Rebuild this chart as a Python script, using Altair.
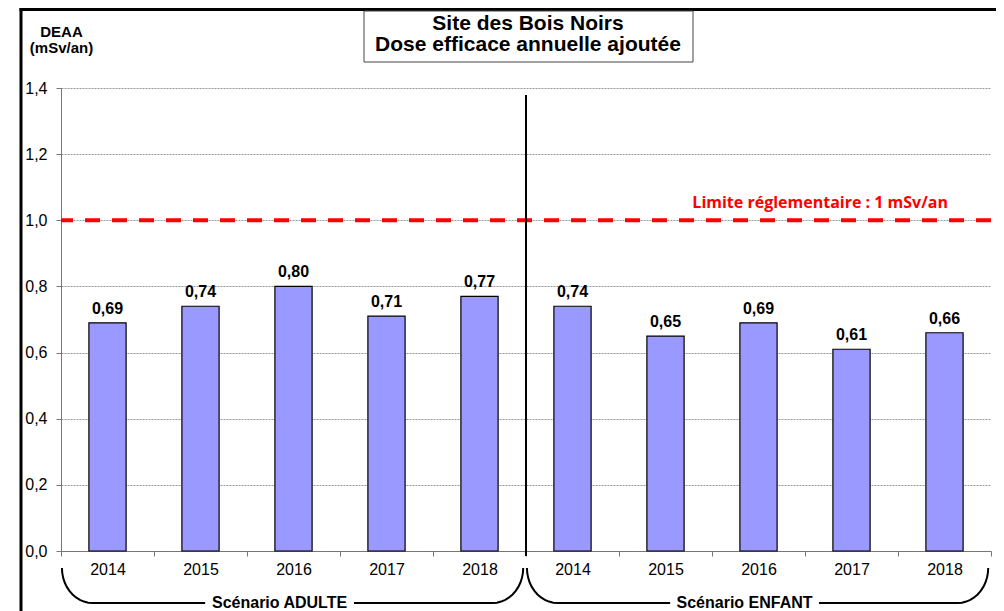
import altair as alt
import pandas as pd
import numpy as np

# ---------------- data ----------------
years = ["2014", "2015", "2016", "2017", "2018"]
scenarios = ["Scénario ADULTE", "Scénario ENFANT"]
adulte = [0.69, 0.74, 0.80, 0.71, 0.77]
enfant = [0.74, 0.65, 0.69, 0.61, 0.66]
limit_value = [1.0]
limit_label = "Limite réglementaire : 1 mSv/an"
title_lines = ["Site des Bois Noirs", "Dose efficace annuelle ajoutée"]
y_title = ["DEAA", "(mSv/an)"]
y_ticks = [0.0, 0.2, 0.4, 0.6, 0.8, 1.0, 1.2, 1.4]

rows = []
for s_i, vals in enumerate([adulte, enfant]):
    for yr, v in zip(years, vals):
        rows.append({"key": f"{s_i}-{yr}", "year": yr, "scenario": scenarios[s_i], "value": v})
df = pd.DataFrame(rows)
order = list(df["key"])

W, H = 930, 463
FONT = "Liberation Sans"

x_enc = alt.X(
    "key:N", sort=order,
    scale=alt.Scale(paddingInner=0, paddingOuter=0),
    axis=alt.Axis(title=None, labelExpr="split(datum.value, '-')[1]", labelAngle=0,
                  tickBand="extent", tickSize=5, labelPadding=5, labelFontSize=16,
                  labelFont=FONT, labelColor="black", domainColor="#777",
                  tickColor="#777", grid=False),
)
y_enc = alt.Y(
    "value:Q",
    scale=alt.Scale(domain=[0, 1.4], nice=False),
    axis=alt.Axis(values=y_ticks,
                  labelExpr="replace(format(datum.value, '.1f'), '.', ',')",
                  title=y_title, titleAngle=0, titleAlign="center", titleX=0, titleY=-52,
                  titleBaseline="alphabetic", titleFontSize=15, titleFontWeight="bold",
                  titleLineHeight=16, titleFont=FONT, titleColor="black",
                  grid=True, gridDash=[2, 1], gridColor="#999", gridWidth=1,
                  tickSize=5, labelPadding=9, labelFontSize=16, labelFont=FONT,
                  labelColor="black", domainColor="#777", tickColor="#777"),
)

base = alt.Chart(df)
bars = base.mark_bar(width=alt.RelativeBandSize(0.4), color="#9999FF",
                     stroke="black", strokeWidth=1.2).encode(x=x_enc, y=y_enc)
labels = base.transform_calculate(
    label="replace(format(datum.value, '.2f'), '.', ',')"
).mark_text(baseline="alphabetic", dy=-9, fontSize=16, fontWeight="bold",
            font=FONT, color="black").encode(x=x_enc, y=y_enc, text="label:N")

lim_df = pd.DataFrame({"value": limit_value})
limit_rule = alt.Chart(lim_df).mark_rule(color="#FF0000", strokeWidth=4,
                                         strokeDash=[15, 12]).encode(y=y_enc)
limit_text = alt.Chart(lim_df).mark_text(
    align="right", baseline="alphabetic", dy=-12, fontSize=16, fontWeight="bold",
    font="Open Sans", color="#FF0000", text=limit_label
).encode(x=alt.value(887), y=y_enc)

main = alt.layer(bars, labels, limit_rule, limit_text)

# ---------------- decorations (braces, separator, title box, frame) ----------------
n = len(years)
rx = 0.33
half_gap = 0.8
pts = []
for g in range(len(scenarios)):
    a = g * n + 0.01
    b = (g + 1) * n - 0.03
    c = g * n + n / 2 - 0.15
    th = np.linspace(0, np.pi / 2, 12)
    k = 0
    for t in th:
        pts.append({"seg": f"{g}L", "ord": k, "bx": a + rx - rx * np.cos(t), "by": 1 - np.sin(t)}); k += 1
    pts.append({"seg": f"{g}L", "ord": k, "bx": c - half_gap, "by": 0.0})
    k = 0
    pts.append({"seg": f"{g}R", "ord": k, "bx": c + half_gap, "by": 0.0}); k += 1
    for t in th[::-1]:
        pts.append({"seg": f"{g}R", "ord": k, "bx": b - rx + rx * np.cos(t), "by": 1 - np.sin(t)}); k += 1
brace_df = pd.DataFrame(pts)

bx_scale = alt.Scale(domain=[0, 2 * n], nice=False, zero=False)
by_scale = alt.Scale(domain=[0, 1], range=[515, 480], nice=False, zero=False)

braces = alt.Chart(brace_df).mark_line(color="black", strokeWidth=2).encode(
    x=alt.X("bx:Q", scale=bx_scale, axis=None),
    y=alt.Y("by:Q", scale=by_scale, axis=None),
    detail="seg:N", order="ord:Q",
)
scen_df = pd.DataFrame({"scenario": scenarios,
                        "bx": [g * n + n / 2 - 0.15 for g in range(len(scenarios))],
                        "by": [0.0] * len(scenarios)})
scen_text = alt.Chart(scen_df).mark_text(baseline="middle", fontSize=16, fontWeight="bold",
                                         font=FONT, color="black").encode(
    x=alt.X("bx:Q", scale=bx_scale, axis=None),
    y=alt.Y("by:Q", scale=by_scale, axis=None),
    text="scenario:N",
)
sep_df = pd.DataFrame({"bx": [n]})
separator = alt.Chart(sep_df).mark_rule(color="black", strokeWidth=2).encode(
    x=alt.X("bx:Q", scale=bx_scale, axis=None),
    y=alt.value(7), y2=alt.value(H + 5),
)
one = pd.DataFrame({"d": [0]})
frame_left = alt.Chart(one).mark_rule(color="black", strokeWidth=3).encode(
    x=alt.value(-40), y=alt.value(-80), y2=alt.value(H + 70))
frame_top = alt.Chart(one).mark_rule(color="black", strokeWidth=3).encode(
    x=alt.value(-41.5), x2=alt.value(W + 60), y=alt.value(-78.5))
title_box = alt.Chart(one).mark_rect(fill="white", stroke="#444", strokeWidth=1).encode(
    x=alt.value(303), x2=alt.value(632), y=alt.value(-77), y2=alt.value(-26))
title_text = alt.Chart(one).mark_text(
    text=title_lines, lineHeight=21, fontSize=21, fontWeight="bold", font=FONT,
    color="black", align="center", baseline="alphabetic"
).encode(x=alt.value(467), y=alt.value(-58))

deco = alt.layer(frame_left, frame_top, title_box, title_text, separator, braces, scen_text)

chart = alt.layer(main, deco).resolve_scale(x="independent", y="independent").properties(
    width=W, height=H,
    padding={"left": 53, "top": 80, "right": 5, "bottom": 60},
    autosize=alt.AutoSizeParams(type="none"),
    background="white",
).configure_view(stroke=None)

chart.save("out.html", embed_options={"renderer": "svg", "actions": False})
